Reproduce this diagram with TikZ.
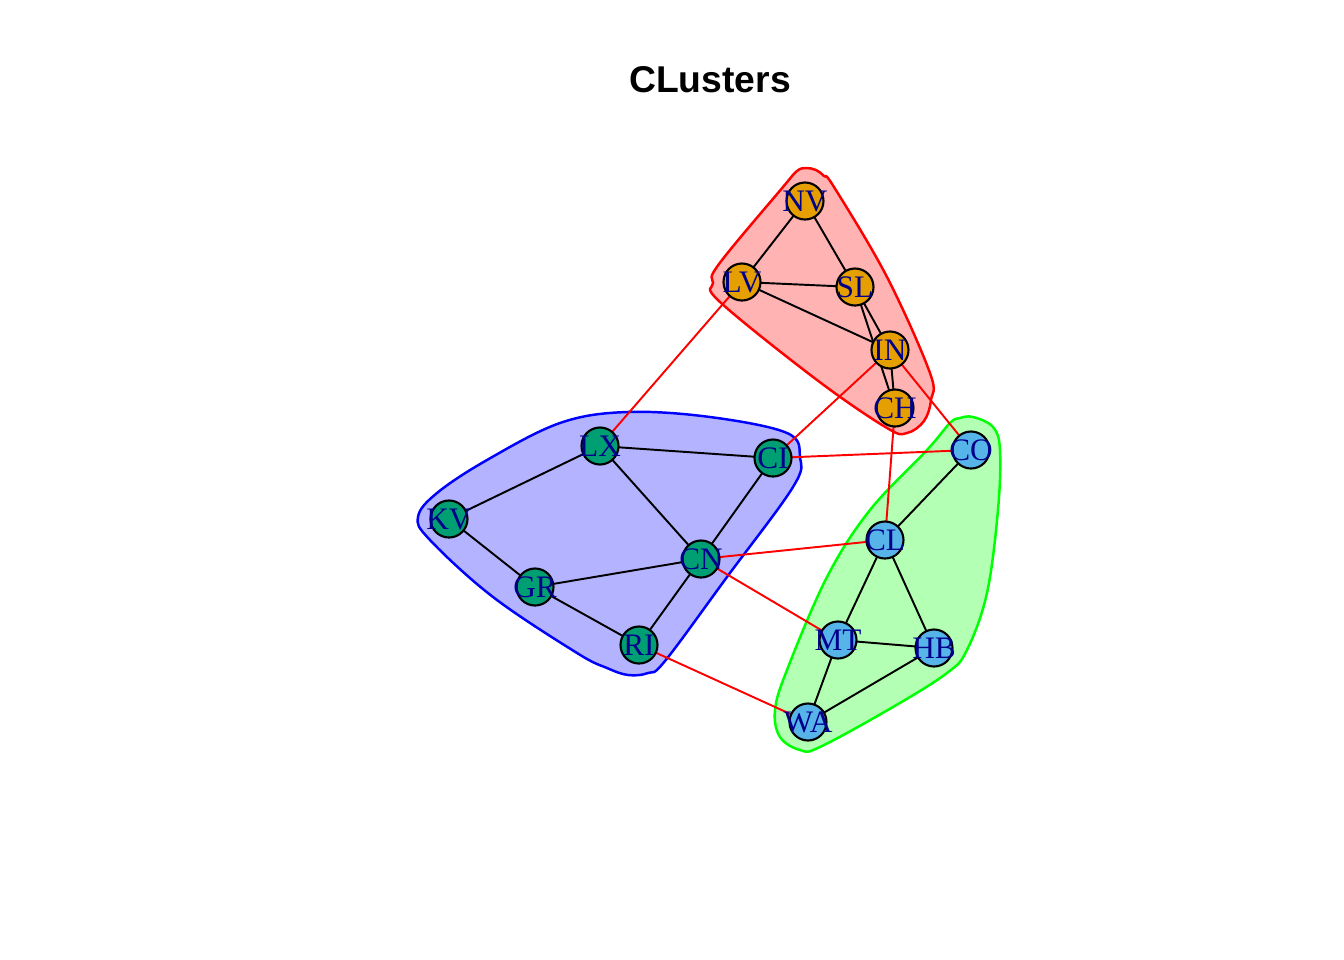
\documentclass[tikz,border=0pt]{standalone}
\usepackage{fontspec}
\setmainfont{Liberation Serif}
\newfontfamily\titlefont{Liberation Sans}
\pgfdeclarelayer{hull}
\pgfdeclarelayer{edges}
\pgfsetlayers{hull,edges,main}
\definecolor{vorange}{HTML}{E69F00}
\definecolor{vgreen}{HTML}{009E73}
\definecolor{vblue}{HTML}{56B4E9}
\definecolor{lblcol}{RGB}{0,0,139}
\definecolor{hred}{RGB}{255,179,179}
\definecolor{hblue}{RGB}{179,179,255}
\definecolor{hgreen}{RGB}{179,255,179}
\newcommand\vlbl[1]{\makebox[0pt]{#1}}
\tikzset{
  vtx/.style={circle,draw=black,line width=0.6pt,minimum size=0.37cm,inner sep=0pt,
    text=lblcol,font=\fontsize{8.9pt}{8.9pt}\selectfont},
  vo/.style={vtx,fill=vorange},
  vg/.style={vtx,fill=vgreen},
  vb/.style={vtx,fill=vblue},
  ein/.style={black,line width=0.55pt},
  eout/.style={red,line width=0.55pt},
  hullline/.style={line width=0.7pt},
}
\begin{document}
\begin{tikzpicture}[x=0.01cm,y=-0.01cm]
\useasboundingbox (0,0) rectangle (1344,960);
\node[font=\titlefont\bfseries\fontsize{10.6pt}{12pt}\selectfont] (title) at (710,80) {CLusters};
% vertices
\node[vo] (NV) at (805,201) {\vlbl{NV}};
\node[vo] (LV) at (742,282) {\vlbl{LV}};
\node[vo] (SL) at (855,287) {\vlbl{SL}};
\node[vo] (IN) at (890,350) {\vlbl{IN}};
\node[vo] (CH) at (895,408) {\vlbl{CH}};
\node[vg] (LX) at (600,446) {\vlbl{LX}};
\node[vg] (CI) at (773,458) {\vlbl{CI}};
\node[vg] (KV) at (449,519) {\vlbl{KV}};
\node[vg] (CN) at (701,559) {\vlbl{CN}};
\node[vg] (GR) at (535,587) {\vlbl{GR}};
\node[vg] (RI) at (639,645) {\vlbl{RI}};
\node[vb] (CO) at (971,450) {\vlbl{CO}};
\node[vb] (CL) at (885,540) {\vlbl{CL}};
\node[vb] (MT) at (838,640) {\vlbl{MT}};
\node[vb] (HB) at (934,648) {\vlbl{HB}};
\node[vb] (WA) at (808,722) {\vlbl{WA}};
\begin{pgfonlayer}{hull}
\draw[hullline,draw=red,fill=hred] plot[smooth cycle,tension=0.6] coordinates {
 (797,171) (806,168) (816,170) (824,176) (834,187) (887,277) (930,373) (931,400)
 (924,421) (907,433) (887,428) (817,380) (720,302) (713,283) (719,264) (783,187)};
\draw[hullline,draw=blue,fill=hblue] plot[smooth cycle,tension=0.6] coordinates {
 (418,517) (437,493) (487,460) (560,423) (627,412) (710,417) (787,433) (800,457)
 (793,487) (727,577) (665,661) (648,673) (628,675) (607,668) (577,653) (493,597) (430,540)};
\draw[hullline,draw=green,fill=hgreen] plot[smooth cycle,tension=0.6] coordinates {
 (960,418) (973,417) (993,427) (1000,450) (998,510) (987,593) (967,650) (947,673)
 (893,707) (820,747) (800,750) (780,737) (775,710) (787,670) (827,577) (870,510)
 (927,450) (950,423)};
\end{pgfonlayer}
\begin{pgfonlayer}{edges}
\draw[ein] (NV.center)--(LV.center);
\draw[ein] (NV.center)--(SL.center);
\draw[ein] (LV.center)--(SL.center);
\draw[ein] (LV.center)--(IN.center);
\draw[ein] (SL.center)--(IN.center);
\draw[ein] (SL.center)--(CH.center);
\draw[ein] (IN.center)--(CH.center);
\draw[ein] (LX.center)--(KV.center);
\draw[ein] (LX.center)--(CI.center);
\draw[ein] (LX.center)--(CN.center);
\draw[ein] (CI.center)--(CN.center);
\draw[ein] (KV.center)--(GR.center);
\draw[ein] (GR.center)--(CN.center);
\draw[ein] (GR.center)--(RI.center);
\draw[ein] (RI.center)--(CN.center);
\draw[ein] (CO.center)--(CL.center);
\draw[ein] (CL.center)--(MT.center);
\draw[ein] (CL.center)--(HB.center);
\draw[ein] (MT.center)--(HB.center);
\draw[ein] (MT.center)--(WA.center);
\draw[ein] (WA.center)--(HB.center);
\draw[eout] (LV.center)--(LX.center);
\draw[eout] (IN.center)--(CI.center);
\draw[eout] (IN.center)--(CO.center);
\draw[eout] (CH.center)--(CL.center);
\draw[eout] (CI.center)--(CO.center);
\draw[eout] (CN.center)--(CL.center);
\draw[eout] (CN.center)--(MT.center);
\draw[eout] (RI.center)--(WA.center);
\end{pgfonlayer}
\end{tikzpicture}
\end{document}
